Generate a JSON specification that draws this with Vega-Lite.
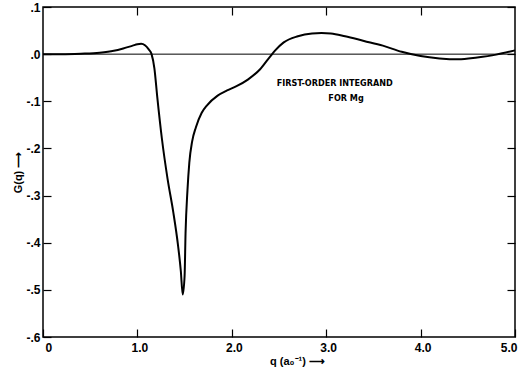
{
  "$schema": "https://vega.github.io/schema/vega-lite/v6.json",
  "autosize": "none",
  "width": 472,
  "height": 330,
  "padding": {"left": 43, "top": 7, "right": 13, "bottom": 32},
  "background": "white",
  "config": {
    "view": {"stroke": "black", "strokeWidth": 1.5},
    "font": "Liberation Sans",
    "axis": {
      "grid": false,
      "domain": false,
      "tickColor": "black",
      "tickWidth": 1.2,
      "labelColor": "black",
      "titleColor": "black",
      "labelFont": "Liberation Sans",
      "titleFont": "Liberation Sans",
      "labelFontSize": 12,
      "labelFontWeight": "bold",
      "titleFontSize": 11,
      "titleFontWeight": "bold"
    }
  },
  "datasets": {
    "curve": [
      {"q": 0.0, "G": 0.0},
      {"q": 0.2, "G": 0.0},
      {"q": 0.4, "G": 0.001},
      {"q": 0.6, "G": 0.003},
      {"q": 0.75, "G": 0.007},
      {"q": 0.85, "G": 0.012},
      {"q": 0.95, "G": 0.018},
      {"q": 1.0, "G": 0.021},
      {"q": 1.04, "G": 0.022},
      {"q": 1.08, "G": 0.019},
      {"q": 1.12, "G": 0.01},
      {"q": 1.15, "G": 0.0},
      {"q": 1.18, "G": -0.03},
      {"q": 1.21, "G": -0.09},
      {"q": 1.26, "G": -0.18},
      {"q": 1.32, "G": -0.265},
      {"q": 1.38, "G": -0.335},
      {"q": 1.43, "G": -0.405},
      {"q": 1.46, "G": -0.46},
      {"q": 1.48, "G": -0.51},
      {"q": 1.5, "G": -0.47},
      {"q": 1.51, "G": -0.38},
      {"q": 1.53, "G": -0.29},
      {"q": 1.55, "G": -0.23},
      {"q": 1.58, "G": -0.185},
      {"q": 1.62, "G": -0.155},
      {"q": 1.68, "G": -0.125},
      {"q": 1.74, "G": -0.108},
      {"q": 1.85, "G": -0.088},
      {"q": 1.95, "G": -0.077},
      {"q": 2.05, "G": -0.068},
      {"q": 2.17, "G": -0.054},
      {"q": 2.3, "G": -0.032},
      {"q": 2.41, "G": -0.004},
      {"q": 2.46, "G": 0.008},
      {"q": 2.55, "G": 0.025},
      {"q": 2.7, "G": 0.038},
      {"q": 2.85, "G": 0.044},
      {"q": 2.95, "G": 0.045},
      {"q": 3.05, "G": 0.044},
      {"q": 3.2, "G": 0.038},
      {"q": 3.4, "G": 0.028},
      {"q": 3.6, "G": 0.018},
      {"q": 3.8, "G": 0.005},
      {"q": 4.0, "G": -0.004},
      {"q": 4.2, "G": -0.009},
      {"q": 4.4, "G": -0.011},
      {"q": 4.6, "G": -0.007},
      {"q": 4.8, "G": -0.001},
      {"q": 5.0, "G": 0.008}
    ],
    "notes": [
      {"q": 3.09, "G": -0.061, "label": "FIRST-ORDER INTEGRAND"},
      {"q": 3.21, "G": -0.094, "label": "FOR Mg"}
    ],
    "zero": [{"G": 0}]
  },
  "resolve": {"axis": {"x": "independent", "y": "independent"}},
  "layer": [
    {
      "data": {"name": "zero"},
      "mark": {"type": "rule", "color": "black", "strokeWidth": 1},
      "encoding": {
        "y": {
          "field": "G", "type": "quantitative",
          "scale": {"domain": [-0.6, 0.1], "nice": false, "zero": false},
          "axis": {"orient": "right", "labels": false, "title": null, "tickSize": -8, "values": [-0.5, -0.4, -0.3, -0.2, -0.1, 0, 0.1]}
        }
      }
    },
    {
      "data": {"name": "curve"},
      "mark": {"type": "line", "color": "black", "strokeWidth": 2, "interpolate": "monotone"},
      "encoding": {
        "x": {
          "field": "q", "type": "quantitative",
          "scale": {"domain": [0, 5], "nice": false},
          "axis": {
            "orient": "bottom",
            "values": [0, 1, 2, 3, 4, 5],
            "tickSize": -8,
            "labelPadding": 13,
            "labelOffset": 2,
            "labelExpr": "datum.value == 0 ? '0' : format(datum.value, '.1f')",
            "title": "q (a₀⁻¹) ⟶",
            "titleX": 254,
            "titlePadding": 2
          }
        },
        "y": {
          "field": "G", "type": "quantitative",
          "scale": {"domain": [-0.6, 0.1], "nice": false, "zero": false},
          "axis": {
            "orient": "left",
            "values": [-0.6, -0.5, -0.4, -0.3, -0.2, -0.1, 0, 0.1],
            "tickSize": -8,
            "labelPadding": 11,
            "labelExpr": "replace(replace(format(datum.value, '.1f'), '0.', '.'), '−', '-')",
            "title": "G(q) ⟶",
            "titlePadding": 2
          }
        }
      }
    },
    {
      "data": {"name": "notes"},
      "mark": {"type": "text", "font": "Liberation Sans Narrow, DejaVu Sans Condensed, DejaVu Sans", "fontSize": 9, "fontWeight": "bold", "color": "black"},
      "encoding": {
        "x": {
          "field": "q", "type": "quantitative",
          "scale": {"domain": [0, 5], "nice": false},
          "axis": {"orient": "top", "labels": false, "title": null, "tickSize": -8, "values": [1, 2, 3, 4]}
        },
        "y": {"field": "G", "type": "quantitative", "scale": {"domain": [-0.6, 0.1], "nice": false, "zero": false}, "axis": null},
        "text": {"field": "label"}
      }
    }
  ]
}
